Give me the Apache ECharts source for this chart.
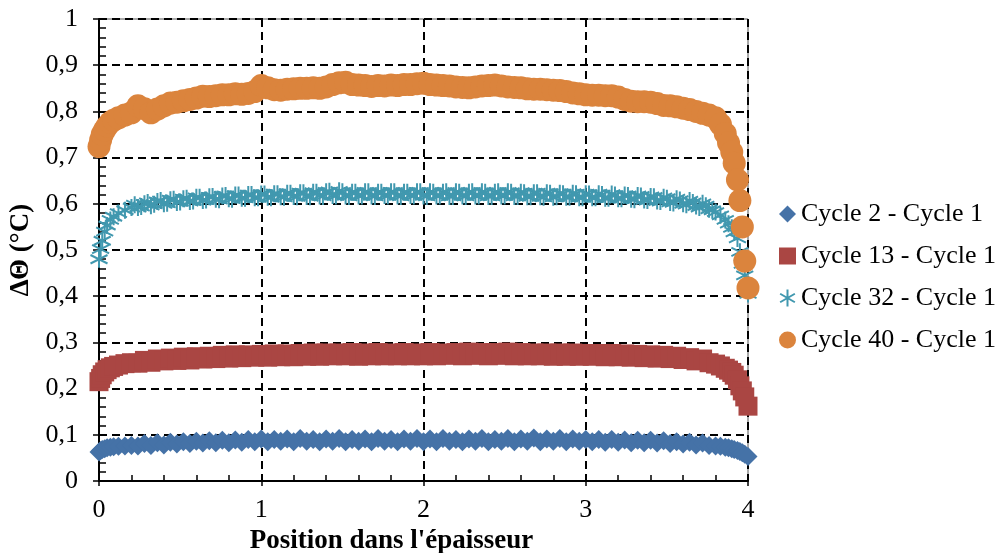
<!DOCTYPE html>
<html>
<head>
<meta charset="utf-8">
<script src="https://cdn.jsdelivr.net/npm/echarts@6/dist/echarts.min.js"></script>
<style>
html,body{margin:0;padding:0;background:#fff;}
#chart{width:1001px;height:553px;}
</style>
</head>
<body>
<div id="chart"></div>
<script>
// Position in thickness (shared x sampling)
const positions = [
  0, 0.01, 0.02, 0.035, 0.05, 0.07, 0.09, 0.12, 0.16, 0.2,
  0.24, 0.28, 0.32, 0.36, 0.4, 0.44, 0.48, 0.52, 0.56, 0.6, 0.64, 0.68, 0.72, 0.76, 0.8, 0.84, 0.88, 0.92, 0.96, 1,
  1.04, 1.08, 1.12, 1.16, 1.2, 1.24, 1.28, 1.32, 1.36, 1.4, 1.44, 1.48, 1.52, 1.56, 1.6, 1.64, 1.68, 1.72, 1.76, 1.8, 1.84, 1.88, 1.92, 1.96, 2,
  2.04, 2.08, 2.12, 2.16, 2.2, 2.24, 2.28, 2.32, 2.36, 2.4, 2.44, 2.48, 2.52, 2.56, 2.6, 2.64, 2.68, 2.72, 2.76, 2.8, 2.84, 2.88, 2.92, 2.96, 3,
  3.04, 3.08, 3.12, 3.16, 3.2, 3.24, 3.28, 3.32, 3.36, 3.4, 3.44, 3.48, 3.52, 3.56, 3.6, 3.64, 3.68, 3.72, 3.76,
  3.8, 3.83, 3.86, 3.88, 3.9, 3.915, 3.935, 3.95, 3.965, 3.98, 4.0
];

const cycle2 = [
  0.063, 0.066, 0.068, 0.070, 0.072, 0.073, 0.074, 0.075, 0.076, 0.077,
  0.076, 0.081, 0.077, 0.083, 0.078, 0.084, 0.080, 0.085, 0.081, 0.086, 0.082, 0.087, 0.083, 0.088, 0.083, 0.089, 0.084, 0.090, 0.085, 0.091,
  0.085, 0.090, 0.086, 0.091, 0.085, 0.092, 0.086, 0.090, 0.085, 0.091, 0.086, 0.092, 0.085, 0.090, 0.086, 0.091, 0.085, 0.092, 0.086, 0.090, 0.085, 0.091, 0.086, 0.092, 0.085,
  0.091, 0.085, 0.092, 0.086, 0.090, 0.085, 0.091, 0.086, 0.092, 0.085, 0.090, 0.086, 0.092, 0.085, 0.091, 0.086, 0.093, 0.085, 0.091, 0.086, 0.092, 0.085, 0.091, 0.086, 0.090,
  0.085, 0.090, 0.084, 0.090, 0.084, 0.089, 0.083, 0.088, 0.083, 0.088, 0.082, 0.087, 0.081, 0.085, 0.080, 0.084, 0.078, 0.082, 0.077,
  0.076, 0.075, 0.073, 0.072, 0.070, 0.068, 0.066, 0.064, 0.061, 0.058, 0.053
];

const cycle13 = [
  0.215, 0.222, 0.230, 0.236, 0.241, 0.245, 0.248, 0.251, 0.254, 0.256,
  0.255, 0.261, 0.257, 0.264, 0.260, 0.266, 0.261, 0.268, 0.262, 0.269, 0.264, 0.270, 0.265, 0.272, 0.266, 0.273, 0.267, 0.273, 0.268, 0.274,
  0.268, 0.275, 0.269, 0.275, 0.269, 0.276, 0.270, 0.277, 0.270, 0.277, 0.271, 0.277, 0.271, 0.278, 0.270, 0.277, 0.271, 0.278, 0.271, 0.277, 0.271, 0.278, 0.271, 0.277, 0.271,
  0.278, 0.271, 0.277, 0.272, 0.278, 0.271, 0.279, 0.272, 0.278, 0.271, 0.278, 0.272, 0.279, 0.271, 0.278, 0.271, 0.277, 0.271, 0.277, 0.270, 0.277, 0.270, 0.277, 0.270, 0.276,
  0.270, 0.276, 0.269, 0.276, 0.269, 0.275, 0.268, 0.274, 0.267, 0.273, 0.266, 0.272, 0.265, 0.270, 0.263, 0.267, 0.260, 0.264, 0.256,
  0.253, 0.249, 0.244, 0.240, 0.235, 0.229, 0.219, 0.206, 0.195, 0.182, 0.162
];

const cycle32 = [
  0.480, 0.502, 0.520, 0.540, 0.553, 0.565, 0.572, 0.580, 0.586, 0.592,
  0.592, 0.600, 0.596, 0.605, 0.600, 0.609, 0.603, 0.611, 0.605, 0.614, 0.607, 0.615, 0.610, 0.617, 0.611, 0.619, 0.612, 0.620, 0.613, 0.621,
  0.614, 0.622, 0.615, 0.623, 0.616, 0.624, 0.616, 0.625, 0.617, 0.626, 0.618, 0.628, 0.617, 0.625, 0.617, 0.626, 0.617, 0.625, 0.618, 0.626, 0.617, 0.625, 0.618, 0.626, 0.617,
  0.626, 0.617, 0.625, 0.616, 0.626, 0.617, 0.625, 0.617, 0.626, 0.616, 0.625, 0.617, 0.626, 0.616, 0.625, 0.615, 0.624, 0.615, 0.624, 0.614, 0.623, 0.614, 0.623, 0.613, 0.622,
  0.613, 0.622, 0.612, 0.621, 0.611, 0.619, 0.610, 0.618, 0.608, 0.616, 0.606, 0.614, 0.603, 0.611, 0.600, 0.607, 0.595, 0.601, 0.588,
  0.582, 0.575, 0.565, 0.557, 0.548, 0.538, 0.525, 0.496, 0.470, 0.445, 0.405
];

// Cycle 32 has a denser sampling: extra in-between positions
const positions32b = [
  0.22, 0.26, 0.3, 0.34, 0.38, 0.42, 0.46, 0.5, 0.54, 0.58, 0.62, 0.66, 0.7, 0.74, 0.78, 0.82, 0.86, 0.9, 0.94, 0.98,
  1.02, 1.06, 1.1, 1.14, 1.18, 1.22, 1.26, 1.3, 1.34, 1.38, 1.42, 1.46, 1.5, 1.54, 1.58, 1.62, 1.66, 1.7, 1.74, 1.78, 1.82, 1.86, 1.9, 1.94, 1.98,
  2.02, 2.06, 2.1, 2.14, 2.18, 2.22, 2.26, 2.3, 2.34, 2.38, 2.42, 2.46, 2.5, 2.54, 2.58, 2.62, 2.66, 2.7, 2.74, 2.78, 2.82, 2.86, 2.9, 2.94, 2.98,
  3.02, 3.06, 3.1, 3.14, 3.18, 3.22, 3.26, 3.3, 3.34, 3.38, 3.42, 3.46, 3.5, 3.54, 3.58, 3.62, 3.66, 3.7, 3.74, 3.78
];
const cycle32b = [
  0.598, 0.594, 0.603, 0.599, 0.607, 0.601, 0.610, 0.604, 0.612, 0.606, 0.614, 0.608, 0.616, 0.609, 0.618, 0.610, 0.619, 0.612, 0.620, 0.613,
  0.621, 0.613, 0.622, 0.614, 0.623, 0.615, 0.624, 0.615, 0.625, 0.616, 0.627, 0.617, 0.626, 0.616, 0.625, 0.617, 0.626, 0.616, 0.625, 0.617, 0.626, 0.616, 0.625, 0.617, 0.626,
  0.616, 0.625, 0.617, 0.626, 0.616, 0.625, 0.616, 0.626, 0.617, 0.625, 0.616, 0.626, 0.617, 0.625, 0.616, 0.624, 0.615, 0.624, 0.614, 0.623, 0.615, 0.622, 0.614, 0.622, 0.613,
  0.621, 0.613, 0.620, 0.612, 0.619, 0.611, 0.618, 0.609, 0.617, 0.607, 0.615, 0.605, 0.612, 0.602, 0.608, 0.598, 0.603, 0.592, 0.596, 0.586
];

const cycle40 = [
  0.724, 0.738, 0.750, 0.760, 0.768, 0.776, 0.781, 0.786, 0.792, 0.797,
  0.812, 0.806, 0.797, 0.805, 0.812, 0.818, 0.820, 0.823, 0.826, 0.829, 0.833, 0.832, 0.834, 0.836, 0.836, 0.838, 0.837, 0.839, 0.843, 0.856,
  0.851, 0.847, 0.846, 0.848, 0.849, 0.850, 0.850, 0.851, 0.850, 0.853, 0.858, 0.862, 0.863, 0.858, 0.857, 0.856, 0.854, 0.856, 0.855, 0.857, 0.856, 0.858, 0.858, 0.860, 0.861,
  0.858, 0.857, 0.856, 0.855, 0.853, 0.852, 0.851, 0.853, 0.855, 0.856, 0.857, 0.855, 0.853, 0.852, 0.851, 0.849, 0.848, 0.848, 0.847, 0.846, 0.845, 0.843, 0.840, 0.838, 0.836,
  0.835, 0.835, 0.834, 0.834, 0.831, 0.826, 0.822, 0.821, 0.821, 0.820, 0.817, 0.813, 0.812, 0.810, 0.807, 0.804, 0.800, 0.796, 0.792,
  0.786, 0.772, 0.752, 0.732, 0.712, 0.688, 0.652, 0.607, 0.550, 0.476, 0.418
];

const seriesNames = ['Cycle 2 - Cycle 1', 'Cycle 13 - Cycle 1', 'Cycle 32 - Cycle 1', 'Cycle 40 - Cycle 1'];
const xTitle = "Position dans l'épaisseur";
const yTitle = 'ΔΘ (°C)';

const FONT = "'Liberation Serif', 'Times New Roman', serif";
const pair = (xs, ys) => xs.map((x, i) => [x, ys[i]]);
const fmt = v => String(Math.round(v * 10) / 10).replace('.', ',');

const chart = echarts.init(document.getElementById('chart'), null, {renderer: 'canvas'});
const gridLine = {show: true, lineStyle: {color: '#000', width: 2, type: [8, 5]}};

chart.setOption({
  animation: false,
  backgroundColor: '#fff',
  textStyle: {fontFamily: FONT, color: '#000'},
  grid: {left: 99, top: 19, right: 253, bottom: 72, show: true, borderColor: '#555', borderWidth: 1,
         containLabel: false, outerBoundsMode: 'none'},
  legend: {
    orient: 'vertical', left: 774, top: 196, itemWidth: 17, itemHeight: 17, itemGap: 16,
    textStyle: {fontFamily: FONT, fontSize: 26, color: '#000', lineHeight: 26},
    data: seriesNames
  },
  xAxis: [{
    type: 'value', min: 0, max: 4, interval: 1, position: 'bottom',
    axisLine: {show: true, onZero: false, lineStyle: {color: '#000', width: 2}},
    axisTick: {show: true, inside: true, length: 7, lineStyle: {color: '#000', width: 1.5}},
    minorTick: {show: true, splitNumber: 5, length: 6, lineStyle: {color: '#000', width: 1.5}},
    axisLabel: {fontFamily: FONT, fontSize: 26, color: '#000', margin: 16},
    splitLine: gridLine,
    name: xTitle, nameLocation: 'middle', nameGap: 46,
    nameTextStyle: {fontFamily: FONT, fontSize: 27, fontWeight: 'bold', color: '#000', padding: [0, 64, 0, 0]}
  }, {
    type: 'value', min: 0, max: 4, interval: 1, position: 'bottom', offset: 0,
    axisLine: {show: false}, axisLabel: {show: false}, splitLine: {show: false},
    axisTick: {show: true, inside: false, length: 5, lineStyle: {color: '#000', width: 1.5}}
  }],
  yAxis: [{
    type: 'value', min: 0, max: 1, interval: 0.1, position: 'left',
    axisLine: {show: true, onZero: false, lineStyle: {color: '#000', width: 2}},
    axisTick: {show: true, inside: true, length: 7, lineStyle: {color: '#000', width: 1.5}},
    minorTick: {show: true, splitNumber: 5, length: 7, lineStyle: {color: '#000', width: 1.5}},
    axisLabel: {fontFamily: FONT, fontSize: 26, color: '#000', margin: 21, formatter: fmt},
    splitLine: gridLine,
    name: yTitle, nameLocation: 'middle', nameGap: 60, nameRotate: 90,
    nameTextStyle: {fontFamily: FONT, fontSize: 27, fontWeight: 'bold', color: '#000'}
  }, {
    type: 'value', min: 0, max: 1, interval: 0.1, position: 'left', offset: 0,
    axisLine: {show: false}, axisLabel: {show: false}, splitLine: {show: false},
    axisTick: {show: true, inside: false, length: 6, lineStyle: {color: '#000', width: 1.5}}
  }],
  series: [{
    name: seriesNames[0], type: 'scatter', data: pair(positions, cycle2),
    symbol: 'diamond', symbolSize: 19, itemStyle: {color: '#4572A7', opacity: 1}, z: 2
  }, {
    name: seriesNames[1], type: 'scatter', data: pair(positions, cycle13),
    symbol: 'rect', symbolSize: 19, itemStyle: {color: '#AA4643', opacity: 1}, z: 3
  }, {
    name: seriesNames[2], type: 'scatter',
    data: pair(positions, cycle32).concat(pair(positions32b, cycle32b)),
    symbol: 'path://M50,0L50,100M6.7,25L93.3,75M6.7,75L93.3,25', symbolSize: 17,
    itemStyle: {color: 'rgba(0,0,0,0)', borderColor: '#4198AF', borderWidth: 2, opacity: 1}, z: 4
  }, {
    name: seriesNames[3], type: 'scatter', data: pair(positions, cycle40),
    symbol: 'circle', symbolSize: 23, itemStyle: {color: '#DB843D', opacity: 1}, z: 5
  }]
});
</script>
</body>
</html>
